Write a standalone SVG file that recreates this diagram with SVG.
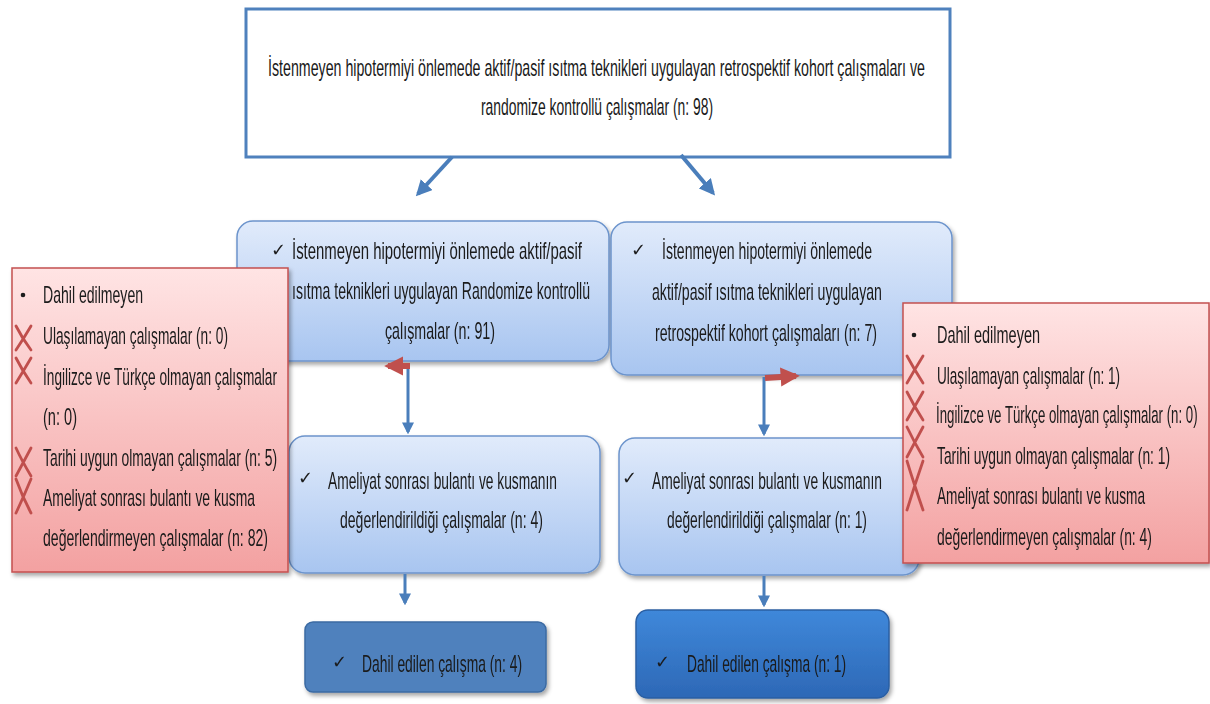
<svg xmlns="http://www.w3.org/2000/svg" width="1210" height="704" viewBox="0 0 1210 704">
<style>
.t{font-family:"Liberation Sans",sans-serif;font-size:24px;fill:#1a1a1a}
.ck{font-family:"DejaVu Sans",sans-serif;font-size:18px;fill:#1a1a1a}
.bl{stroke:#4a7ebb;stroke-width:4;fill:none}
.x{stroke:#c0504d;stroke-width:2.8;fill:none;stroke-linecap:round}
.lb{fill:url(#gBlue);stroke:#6c94cc;stroke-width:1.5}
.rd{fill:url(#gRed);stroke:#c4504f;stroke-width:1.5}
</style>
<defs>
<linearGradient id="gBlue" x1="0" y1="0" x2="0" y2="1"><stop offset="0" stop-color="#e1ebfb"/><stop offset="1" stop-color="#a8c5f0"/></linearGradient>
<linearGradient id="gRed" x1="0" y1="0" x2="0" y2="1"><stop offset="0" stop-color="#ffe4e4"/><stop offset="1" stop-color="#f3a1a1"/></linearGradient>
<linearGradient id="gDark" x1="0" y1="0" x2="0" y2="1"><stop offset="0" stop-color="#3f88da"/><stop offset="1" stop-color="#2d68b6"/></linearGradient>
<filter id="sh" x="-10%" y="-10%" width="125%" height="130%"><feDropShadow dx="2" dy="3" stdDeviation="2" flood-color="#000" flood-opacity="0.35"/></filter>
<marker id="ab" viewBox="0 0 10 10" refX="8" refY="5" markerWidth="4" markerHeight="4" orient="auto"><path d="M0,0 L10,5 L0,10 z" fill="#4a7ebb"/></marker>
<marker id="ar" viewBox="0 0 10 10" refX="8" refY="5" markerWidth="3.2" markerHeight="3.2" orient="auto"><path d="M0,0 L10,5 L0,10 z" fill="#c0504d"/></marker>
</defs>
<rect width="1210" height="704" fill="#ffffff"/>

<g id="top">
<rect x="246" y="9" width="704" height="148" fill="#ffffff" stroke="#4f81bd" stroke-width="3"/>
<text class="t" transform="translate(268,76) scale(0.6,1)" textLength="1095" lengthAdjust="spacingAndGlyphs">İstenmeyen hipotermiyi önlemede aktif/pasif ısıtma teknikleri uygulayan retrospektif kohort çalışmaları ve</text>
<text class="t" transform="translate(481,115) scale(0.6,1)" textLength="386.7" lengthAdjust="spacingAndGlyphs">randomize kontrollü çalışmalar (n: 98)</text>
</g>

<g id="rct" filter="url(#sh)">
<rect class="lb" x="237" y="221" width="372" height="140" rx="16"/>
<text class="ck" x="271" y="256">✓</text>
<text class="t" transform="translate(292,259) scale(0.6,1)" textLength="483.3" lengthAdjust="spacingAndGlyphs">İstenmeyen hipotermiyi önlemede aktif/pasif</text>
<text class="t" transform="translate(292,299) scale(0.6,1)" textLength="496.7" lengthAdjust="spacingAndGlyphs">ısıtma teknikleri uygulayan Randomize kontrollü</text>
<text class="t" transform="translate(385,339) scale(0.6,1)" textLength="183.3" lengthAdjust="spacingAndGlyphs">çalışmalar (n: 91)</text>
</g>

<g id="kohort" filter="url(#sh)">
<rect class="lb" x="611" y="222" width="341" height="153" rx="16"/>
<text class="ck" x="631" y="256">✓</text>
<text class="t" transform="translate(662,259) scale(0.6,1)" textLength="350" lengthAdjust="spacingAndGlyphs">İstenmeyen hipotermiyi önlemede</text>
<text class="t" transform="translate(652,300) scale(0.6,1)" textLength="383.3" lengthAdjust="spacingAndGlyphs">aktif/pasif ısıtma teknikleri uygulayan</text>
<text class="t" transform="translate(655,341) scale(0.6,1)" textLength="370" lengthAdjust="spacingAndGlyphs">retrospektif kohort çalışmaları (n: 7)</text>
</g>

<g id="bulanti1" filter="url(#sh)">
<rect class="lb" x="289" y="436" width="311" height="137" rx="16"/>
<text class="ck" x="298" y="484">✓</text>
<text class="t" transform="translate(328,489) scale(0.6,1)" textLength="381.7" lengthAdjust="spacingAndGlyphs">Ameliyat sonrası bulantı ve kusmanın</text>
<text class="t" transform="translate(340,528) scale(0.6,1)" textLength="338.3" lengthAdjust="spacingAndGlyphs">değerlendirildiği çalışmalar (n: 4)</text>
</g>

<g id="bulanti2" filter="url(#sh)">
<rect class="lb" x="619" y="438" width="300" height="137" rx="16"/>
<text class="ck" x="622" y="484">✓</text>
<text class="t" transform="translate(652,489) scale(0.6,1)" textLength="383.3" lengthAdjust="spacingAndGlyphs">Ameliyat sonrası bulantı ve kusmanın</text>
<text class="t" transform="translate(667,528) scale(0.6,1)" textLength="333.3" lengthAdjust="spacingAndGlyphs">değerlendirildiği çalışmalar (n: 1)</text>
</g>

<g id="connectors">
<line class="bl" x1="452" y1="157" x2="418" y2="194" marker-end="url(#ab)"/>
<line class="bl" x1="681" y1="155" x2="713" y2="193" marker-end="url(#ab)"/>
<line x1="408" y1="365" x2="408" y2="432" stroke="#4a7ebb" stroke-width="3" marker-end="url(#ab)"/>
<line x1="764" y1="377" x2="764" y2="434" stroke="#4a7ebb" stroke-width="3" marker-end="url(#ab)"/>
<line x1="410" y1="366" x2="388" y2="366" stroke="#c0504d" stroke-width="6" marker-end="url(#ar)"/>
<line x1="765" y1="378" x2="796" y2="376" stroke="#c0504d" stroke-width="6" marker-end="url(#ar)"/>
<line x1="405" y1="574" x2="405" y2="603" stroke="#4a7ebb" stroke-width="3" marker-end="url(#ab)"/>
<line x1="764" y1="576" x2="764" y2="605" stroke="#4a7ebb" stroke-width="3" marker-end="url(#ab)"/>
</g>

<g id="excl-left" filter="url(#sh)">
<rect class="rd" x="12" y="268" width="276" height="304"/>
<circle cx="23" cy="295" r="2.3" fill="#1a1a1a"/>
<text class="t" transform="translate(43,303) scale(0.6,1)" textLength="166.7" lengthAdjust="spacingAndGlyphs">Dahil edilmeyen</text>
<path class="x" d="M16,326 Q22,338 31,350 M31,326 Q24,338 16,350"/>
<text class="t" transform="translate(43,344) scale(0.6,1)" textLength="308.3" lengthAdjust="spacingAndGlyphs">Ulaşılamayan çalışmalar (n: 0)</text>
<path class="x" d="M16,358 Q22,370 31,383 M31,358 Q24,370 16,383"/>
<text class="t" transform="translate(43,385) scale(0.6,1)" textLength="390" lengthAdjust="spacingAndGlyphs">İngilizce ve Türkçe olmayan çalışmalar</text>
<text class="t" transform="translate(43,425) scale(0.6,1)" textLength="56.7" lengthAdjust="spacingAndGlyphs">(n: 0)</text>
<path class="x" d="M16,448 Q22,461 31,476 M31,448 Q24,461 16,476"/>
<text class="t" transform="translate(43,466) scale(0.6,1)" textLength="390" lengthAdjust="spacingAndGlyphs">Tarihi uygun olmayan çalışmalar (n: 5)</text>
<path class="x" d="M16,479 Q22,496 31,513 M31,479 Q24,496 16,513"/>
<text class="t" transform="translate(43,506) scale(0.6,1)" textLength="353.3" lengthAdjust="spacingAndGlyphs">Ameliyat sonrası bulantı ve kusma</text>
<text class="t" transform="translate(43,546) scale(0.6,1)" textLength="375" lengthAdjust="spacingAndGlyphs">değerlendirmeyen çalışmalar (n: 82)</text>
</g>

<g id="excl-right" filter="url(#sh)">
<rect class="rd" x="903" y="303" width="306" height="260"/>
<circle cx="914" cy="335" r="2.3" fill="#1a1a1a"/>
<text class="t" transform="translate(937,343) scale(0.6,1)" textLength="171.7" lengthAdjust="spacingAndGlyphs">Dahil edilmeyen</text>
<path class="x" d="M907,356 Q914,369 923,383 M923,356 Q915,369 907,383"/>
<text class="t" transform="translate(937,384) scale(0.6,1)" textLength="305" lengthAdjust="spacingAndGlyphs">Ulaşılamayan çalışmalar (n: 1)</text>
<path class="x" d="M907,392 Q914,406 923,420 M923,392 Q915,406 907,420"/>
<text class="t" transform="translate(936,423) scale(0.52,1)" textLength="503" lengthAdjust="spacingAndGlyphs">İngilizce ve Türkçe olmayan çalışmalar (n: 0)</text>
<path class="x" d="M907,427 Q914,442 923,457 M923,427 Q915,442 907,457"/>
<text class="t" transform="translate(937,464) scale(0.6,1)" textLength="388.3" lengthAdjust="spacingAndGlyphs">Tarihi uygun olmayan çalışmalar (n: 1)</text>
<path class="x" d="M907,461 Q914,484 923,510 M923,461 Q915,484 907,510"/>
<text class="t" transform="translate(937,504) scale(0.6,1)" textLength="346.7" lengthAdjust="spacingAndGlyphs">Ameliyat sonrası bulantı ve kusma</text>
<text class="t" transform="translate(937,545) scale(0.6,1)" textLength="358.3" lengthAdjust="spacingAndGlyphs">değerlendirmeyen çalışmalar (n: 4)</text>
</g>

<g id="dahil1" filter="url(#sh)">
<rect x="305" y="622" width="241" height="70" rx="8" fill="#4f81bd" stroke="#3b6aa3" stroke-width="1.5"/>
<text class="ck" x="332" y="668">✓</text>
<text class="t" transform="translate(362,672) scale(0.6,1)" textLength="266.7" lengthAdjust="spacingAndGlyphs">Dahil edilen çalışma (n: 4)</text>
</g>

<g id="dahil2" filter="url(#sh)">
<rect x="636" y="610" width="253" height="88" rx="12" fill="url(#gDark)" stroke="#2b5fa3" stroke-width="1.5"/>
<text class="ck" x="655" y="668">✓</text>
<text class="t" transform="translate(687,672) scale(0.6,1)" textLength="265" lengthAdjust="spacingAndGlyphs">Dahil edilen çalışma (n: 1)</text>
</g>
</svg>
